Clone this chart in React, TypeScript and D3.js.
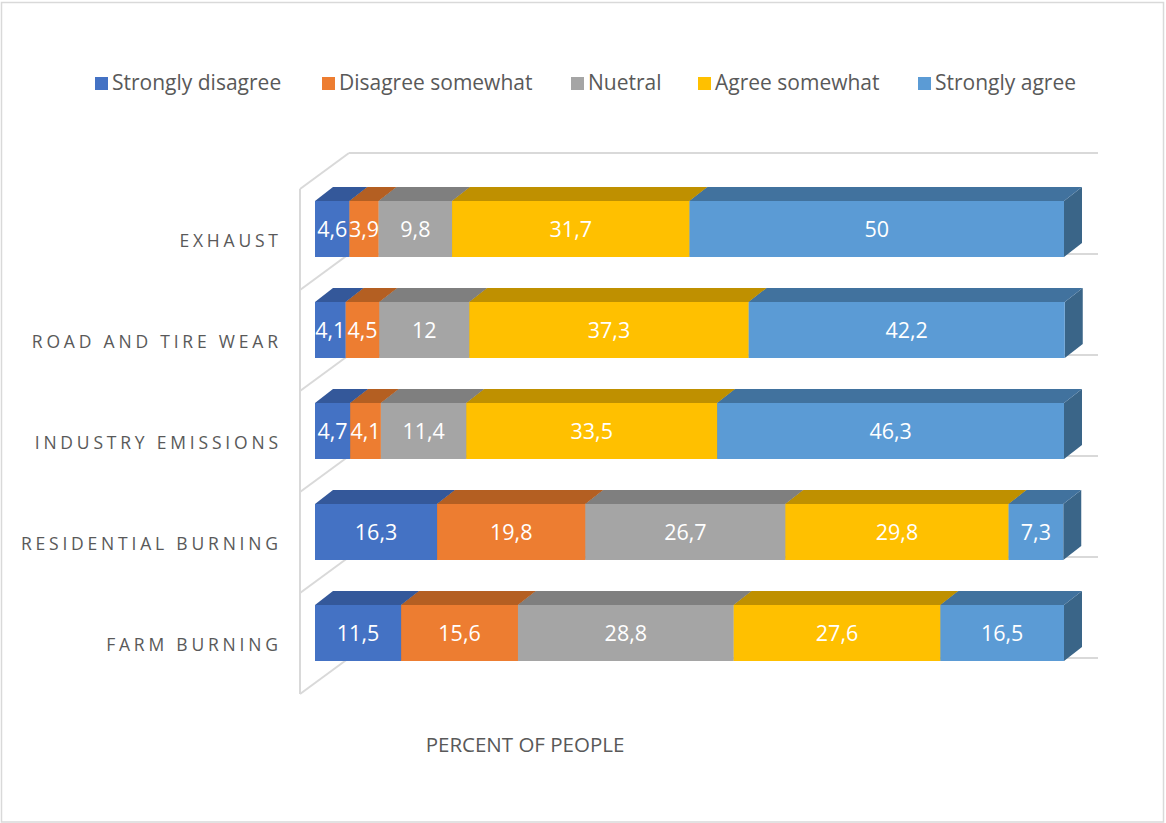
import React from "react";
import * as d3 from "d3";

const categories = ["EXHAUST", "ROAD AND TIRE WEAR", "INDUSTRY EMISSIONS", "RESIDENTIAL BURNING", "FARM BURNING"];
const seriesNames = ["Strongly disagree", "Disagree somewhat", "Nuetral", "Agree somewhat", "Strongly agree"];
const stronglyDisagree = [4.6, 4.1, 4.7, 16.3, 11.5];
const disagreeSomewhat = [3.9, 4.5, 4.1, 19.8, 15.6];
const neutral = [9.8, 12, 11.4, 26.7, 28.8];
const agreeSomewhat = [31.7, 37.3, 33.5, 29.8, 27.6];
const stronglyAgree = [50, 42.2, 46.3, 7.3, 16.5];
const axisTitle = "PERCENT OF PEOPLE";

const frontColors = ["#4472C4", "#ED7D31", "#A5A5A5", "#FFC000", "#5B9BD5"];
const topColors = ["#34589A", "#B45F22", "#7F7F7F", "#BF9000", "#41729E"];
const sideColors = ["#2E4F8A", "#A0541D", "#717171", "#A87F00", "#3A6588"];
const legendX = [95, 322, 571, 698, 918];

const FONT = "'Open Sans', 'Liberation Sans', sans-serif";
const GRID = "#D9D9D9";
const TEXT = "#595959";

export default function App() {
  const W = 1166, H = 823;
  const series = [stronglyDisagree, disagreeSomewhat, neutral, agreeSomewhat, stronglyAgree];
  const rows = categories.map((c, i) => {
    const o: any = { cat: c };
    seriesNames.forEach((s, j) => (o[s] = series[j][i]));
    return o;
  });
  const stack = d3.stack<any>().keys(seriesNames)(rows);

  const x = d3.scaleLinear().domain([0, 100]).range([315, 1064]);
  const y = d3.scaleBand().domain(categories).range([153, 658]).paddingInner(0).paddingOuter(0);
  const wallDy = 36;
  const barDx = 18, barDy = 14;
  const backLeft = 349, backRight = 1098;
  const boundaries = d3.range(categories.length + 1).map((k) => 153 + k * y.bandwidth());

  return (
    <svg width={W} height={H} style={{ position: "absolute", left: 0, top: 0, background: "#fff" }} fontFamily={FONT}>
      <rect x={1.5} y={2.5} width={1162} height={819.5} fill="#fff" stroke={GRID} strokeWidth={1.5} />
      {seriesNames.map((s, j) => (
        <g key={s}>
          <rect x={legendX[j]} y={77} width={13} height={13} fill={frontColors[j]} />
          <text x={legendX[j] + 17} y={90} fontSize={21} fill={TEXT}>{s}</text>
        </g>
      ))}
      <line x1={300} x2={300} y1={boundaries[0] + wallDy} y2={boundaries[boundaries.length - 1] + wallDy} stroke={GRID} strokeWidth={2} />
      {boundaries.map((b, k) => (
        <g key={k}>
          <line x1={300} y1={b + wallDy} x2={backLeft} y2={b} stroke={GRID} strokeWidth={2} />
          <line x1={backLeft} y1={b} x2={backRight} y2={b} stroke={GRID} strokeWidth={2} />
        </g>
      ))}
      {categories.map((c, i) => {
        const top = (y(c) as number) + 48;
        const bot = top + 56;
        return (
          <g key={c}>
            {stack.map((layer, j) => {
              const x0 = x(layer[i][0]);
              const x1 = x(layer[i][1]);
              return (
                <g key={j}>
                  <polygon points={`${x1},${top} ${x1 + barDx},${top - barDy} ${x1 + barDx},${bot - barDy} ${x1},${bot}`} fill={sideColors[j]} />
                  <polygon points={`${x0},${top} ${x0 + barDx},${top - barDy} ${x1 + barDx},${top - barDy} ${x1},${top}`} fill={topColors[j]} />
                  <rect x={x0} y={top} width={x1 - x0} height={bot - top} fill={frontColors[j]} />
                </g>
              );
            })}
            {stack.map((layer, j) => {
              const x0 = x(layer[i][0]);
              const x1 = x(layer[i][1]);
              const v = layer[i][1] - layer[i][0];
              return (
                <text key={"t" + j} x={(x0 + x1) / 2} y={(top + bot) / 2 + 8} textAnchor="middle" fontSize={21.5} fill="#fff">
                  {String(Math.round(v * 10) / 10).replace(".", ",")}
                </text>
              );
            })}
            <text x={278} y={(y(c) as number) + y.bandwidth() / 2 + wallDy + 7.5} textAnchor="end" fontSize={17.5} letterSpacing={3.8} dx={3.8} fill={TEXT}>
              {c}
            </text>
          </g>
        );
      })}
      <text x={525} y={752} textAnchor="middle" fontSize={20.5} fill={TEXT}>{axisTitle}</text>
    </svg>
  );
}
